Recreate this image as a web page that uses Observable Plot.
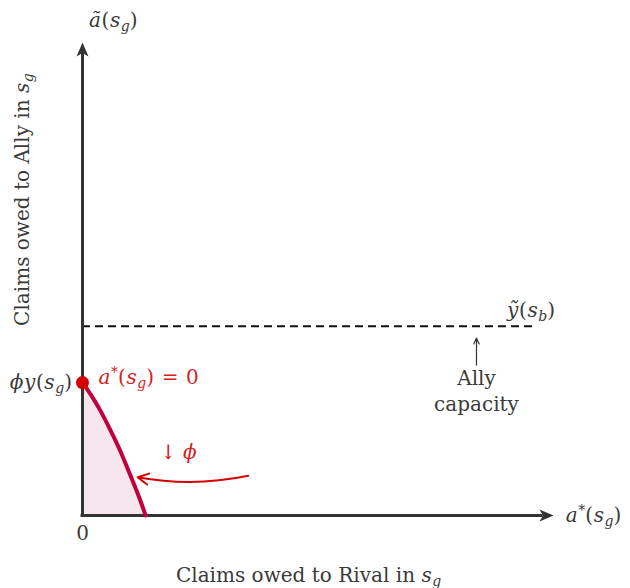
<!DOCTYPE html>
<html>
<head>
<meta charset="utf-8">
<script src="https://cdn.jsdelivr.net/npm/d3@7"></script>
<script src="https://cdn.jsdelivr.net/npm/@observablehq/plot@0.6"></script>
<style>
  html, body { margin: 0; padding: 0; background: #fff; }
  #chart { width: 630px; height: 588px; }
</style>
</head>
<body>
<div id="chart"></div>
<script>
// ---- data (unit axes: 0 = origin, 1 = arrow tip) ----
const curveX = [0, 0.02, 0.04, 0.06, 0.08, 0.10, 0.12, 0.134];
const curveY = [0.281, 0.252, 0.218, 0.179, 0.137, 0.089, 0.039, 0];
const phiY = 0.281;          // phi * y(s_g)
const allyCap = 0.40;        // y~(s_b)
const capEndX = 0.966;
const bendArrow = {x1: 0.352, y1: 0.084, x2: 0.117, y2: 0.081};
const capArrow = {x1: 0.8365, y1: 0.318, x2: 0.8365, y2: 0.375};

const grayLabels = [
  {x: 0.066, y: 1.047, text: "$ã(s_g)$", anchor: "middle", rotate: 0},
  {x: -0.1274, y: 0.668, text: "Claims owed to Ally in $s_g$", anchor: "middle", rotate: -90},
  {x: -0.021, y: 0.281, text: "$ϕy(s_g)$", anchor: "end", rotate: 0},
  {x: 0, y: -0.038, text: "0", anchor: "middle", rotate: 0},
  {x: 1.026, y: 0.0, text: "$a^*(s_g)$", anchor: "start", rotate: 0},
  {x: 0.48, y: -0.128, text: "Claims owed to Rival in $s_g$", anchor: "middle", rotate: 0},
  {x: 0.953, y: 0.433, text: "$ỹ(s_b)$", anchor: "middle", rotate: 0},
  {x: 0.8365, y: 0.2896, text: "Ally", anchor: "middle", rotate: 0},
  {x: 0.8365, y: 0.2347, text: "capacity", anchor: "middle", rotate: 0}
];
const redLabels = [
  {x: 0.034, y: 0.292, text: "$a^*(s_g) = 0$", anchor: "start"},
  {x: 0.204, y: 0.133, text: "↓ $ϕ$", anchor: "middle"}
];

const curve = curveX.map((x, i) => ({x, y: curveY[i]}));

// stealth arrowhead symbol, tip at origin pointing up
const stealth = {
  draw(ctx) {
    ctx.moveTo(0, 0);
    ctx.lineTo(6, 14);
    ctx.lineTo(0, 10.5);
    ctx.lineTo(-6, 14);
    ctx.closePath();
  }
};

const FONT = "'DejaVu Serif', 'Liberation Serif', serif";
const FS = 20;

const chart = Plot.plot({
  width: 630,
  height: 588,
  marginLeft: 82,
  marginRight: 77,
  marginTop: 42,
  marginBottom: 73,
  x: {domain: [0, 1], axis: null},
  y: {domain: [0, 1], axis: null},
  style: {fontFamily: FONT, background: "#fff", overflow: "visible"},
  marks: [
    Plot.areaY(curve, {x: "x", y: "y", fill: "#f7e6ee", curve: "natural"}),
    Plot.ruleY([allyCap], {x1: 0, x2: capEndX, stroke: "#111", strokeWidth: 2, strokeDasharray: "8,5"}),
    Plot.ruleX([0], {y1: 0, y2: 0.975, stroke: "#333", strokeWidth: 3, strokeLinecap: "square"}),
    Plot.ruleY([0], {x1: 0, x2: 0.975, stroke: "#333", strokeWidth: 3, strokeLinecap: "square"}),
    Plot.dot([{x: 0, y: 1, r: 0}, {x: 1, y: 0, r: 90}], {x: "x", y: "y", rotate: "r", symbol: stealth, fill: "#333", stroke: "none", r: 6}),
    Plot.line(curve, {x: "x", y: "y", stroke: "#c0003c", strokeWidth: 4, curve: "natural"}),
    Plot.dot([{x: 0, y: phiY}], {x: "x", y: "y", r: 6.5, fill: "#d40000", stroke: "none"}),
    Plot.arrow([bendArrow], {x1: "x1", y1: "y1", x2: "x2", y2: "y2", bend: 11, stroke: "#d40000", strokeWidth: 2, headLength: 9, headAngle: 55}),
    Plot.arrow([capArrow], {x1: "x1", y1: "y1", x2: "x2", y2: "y2", stroke: "#333", strokeWidth: 1.2, headLength: 8, headAngle: 50}),
    Plot.text(grayLabels, {x: "x", y: "y", text: "text", rotate: "rotate", fill: "#3a3a3a", fontSize: FS}),
    Plot.text(redLabels, {x: "x", y: "y", text: "text", fill: "#d42020", fontSize: FS})
  ]
});

document.getElementById("chart").appendChild(chart);

function mathify(el, anchor) {
  const src = el.textContent;
  if (anchor) el.setAttribute("text-anchor", anchor);
  if (!src.includes("$")) return;
  el.textContent = "";
  let math = false;
  const ns = "http://www.w3.org/2000/svg";
  for (let i = 0; i < src.length; i++) {
    const c = src[i];
    if (c === "$") { math = !math; continue; }
    const t = document.createElementNS(ns, "tspan");
    if (math && (c === "_" || c === "^")) {
      const ch = src[++i];
      t.textContent = ch;
      t.setAttribute("font-size", (FS * 0.7).toFixed(1));
      t.setAttribute("baseline-shift", c === "_" ? (-0.2 * FS).toFixed(1) : (0.36 * FS).toFixed(1));
      if (/\p{L}/u.test(ch)) t.setAttribute("font-style", "italic");
    } else {
      t.textContent = c;
      if (math && /\p{L}/u.test(c)) t.setAttribute("font-style", "italic");
      if (math) t.setAttribute("letter-spacing", "0.6");
    }
    el.appendChild(t);
  }
}
// per-datum text anchors and math formatting, applied after Plot renders
const allLabels = [grayLabels, redLabels];
let gi = 0;
chart.querySelectorAll("g[aria-label='text']").forEach((g) => {
  const data = allLabels[gi++];
  g.querySelectorAll("text").forEach((el, i) => mathify(el, data && data[i] ? data[i].anchor : null));
});
</script>
</body>
</html>
